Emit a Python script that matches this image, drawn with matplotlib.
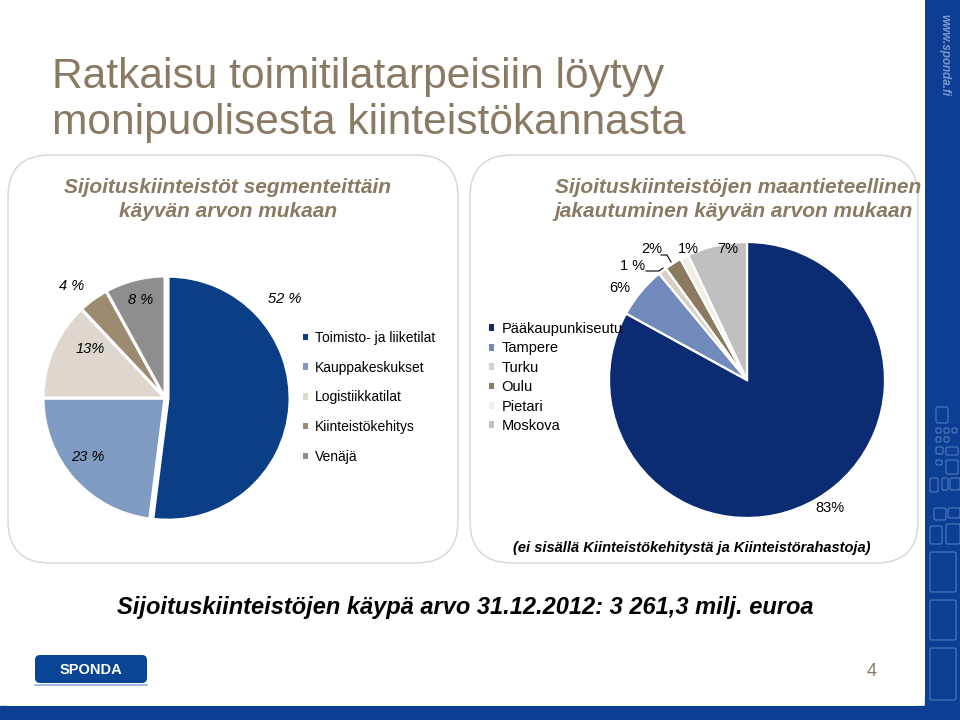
import matplotlib
matplotlib.use("Agg")
import matplotlib.pyplot as plt
from matplotlib.patches import FancyBboxPatch, Rectangle

plt.rcParams['font.family'] = ['Liberation Sans', 'DejaVu Sans']

# segment split (left pie)
segments = ['Toimisto- ja liiketilat', 'Kauppakeskukset', 'Logistiikkatilat',
            'Kiinteistökehitys', 'Venäjä']
segment_share = [52, 23, 13, 4, 8]
segment_labels = ['52 %', '23 %', '13%', '4 %', '8 %']
segment_colors = ['#0a3f88', '#7f9bc2', '#ddd7ce', '#9c8b71', '#8e8e8e']

# geographical split (right pie)
regions = ['Pääkaupunkiseutu', 'Tampere', 'Turku', 'Oulu', 'Pietari', 'Moskova']
region_share = [83, 6, 1, 2, 1, 7]
region_labels = ['83%', '6%', '1 %', '2%', '1%', '7%']
region_colors = ['#0b2c73', '#7189bb', '#d6d0c6', '#8b7a60', '#efede4', '#c0c0c0']

BROWN = '#8a7a63'
W, H = 960, 720

fig = plt.figure(figsize=(9.6, 7.2), dpi=100)
bg = fig.add_axes([0, 0, 1, 1])
bg.set_xlim(0, W)
bg.set_ylim(H, 0)
bg.axis('off')

# slide frame
bg.add_patch(Rectangle((925, 0), 35, 720, color='#0c3f94', zorder=0))
bg.add_patch(Rectangle((0, 706), 960, 14, color='#0c3f94', zorder=0))
bg.add_patch(FancyBboxPatch((0, -20), 925, 726, boxstyle='round,pad=0,rounding_size=12',
                            fc='white', ec='none', zorder=0.5))
for (x, y, w, h) in [(936, 407, 12, 16), (936, 428, 5, 5), (944, 428, 5, 5),
                     (952, 428, 5, 5), (936, 437, 5, 5), (944, 437, 5, 5),
                     (936, 447, 7, 7), (946, 447, 12, 8), (936, 460, 6, 5),
                     (946, 460, 12, 14), (930, 478, 8, 14), (942, 478, 6, 12),
                     (950, 478, 10, 12), (934, 508, 12, 12), (948, 508, 12, 10),
                     (930, 526, 12, 18), (946, 524, 14, 20), (930, 552, 26, 40),
                     (930, 600, 26, 40), (930, 648, 26, 52)]:
    bg.add_patch(FancyBboxPatch((x, y), w, h, boxstyle='round,pad=0,rounding_size=1.5',
                                fc='none', ec='#5f80c0', lw=0.7, zorder=0.3))
bg.text(944, 55, 'www.sponda.fi', rotation=-90, color='#7d98cc', fontsize=8.5,
        style='italic', weight='bold', ha='center', va='center')

# title
bg.text(52, 88, 'Ratkaisu toimitilatarpeisiin löytyy', fontsize=30.6, color=BROWN, va='baseline')
bg.text(52, 134, 'monipuolisesta kiinteistökannasta', fontsize=30.6, color=BROWN, va='baseline')

# panels
for x0, w in [(8, 450), (470, 448)]:
    bg.add_patch(FancyBboxPatch((x0, 155), w, 408, boxstyle='round,pad=0,rounding_size=42',
                                fc='white', ec='#d6d6d6', lw=1.0, zorder=0.6))

sub = dict(fontsize=15, color=BROWN, weight='bold', style='italic', ha='center', va='baseline')
bg.text(228, 193, 'Sijoituskiinteistöt segmenteittäin', **sub)
bg.text(228, 217, 'käyvän arvon mukaan', **sub)
bg.text(738, 193, 'Sijoituskiinteistöjen maantieteellinen', **sub)
bg.text(733, 217, 'jakautuminen käyvän arvon mukaan', **sub)


def pie_axes(cx, cy, r):
    return fig.add_axes([(cx - r) / W, (H - cy - r) / H, 2 * r / W, 2 * r / H])


# left pie
ax1 = pie_axes(165, 398, 122)
w1, _ = ax1.pie(segment_share, colors=segment_colors, startangle=90, counterclock=False,
                explode=[0.025, 0, 0, 0, 0],
                wedgeprops=dict(edgecolor='white', linewidth=2.2))
ax1.set_xlim(-1, 1)
ax1.set_ylim(-1, 1)
ax1.axis('off')

leg1 = fig.legend(w1, segments, loc='upper left', bbox_to_anchor=(303 / W, 1 - 331 / H),
                  frameon=False, fontsize=10, handlelength=0.35, handleheight=0.35,
                  handletextpad=0.5, labelspacing=1.13, borderpad=0, borderaxespad=0)
for h in leg1.legend_handles:
    h.set_edgecolor('none')

# right pie
ax2 = pie_axes(747, 380, 138)
w2, _ = ax2.pie(region_share, colors=region_colors, startangle=90, counterclock=False,
                wedgeprops=dict(edgecolor='white', linewidth=1.6))
ax2.set_xlim(-1, 1)
ax2.set_ylim(-1, 1)
ax2.axis('off')

leg2 = fig.legend(w2, regions, loc='upper left', bbox_to_anchor=(489 / W, 1 - 322 / H),
                  frameon=False, fontsize=10.5, handlelength=0.35, handleheight=0.35,
                  handletextpad=0.5, labelspacing=0.37, borderpad=0, borderaxespad=0)
for h in leg2.legend_handles:
    h.set_edgecolor('none')

# overlay for the data labels so they sit above the pies
top = fig.add_axes([0, 0, 1, 1], zorder=10)
top.set_xlim(0, W)
top.set_ylim(H, 0)
top.axis('off')

for lab, (x, y) in zip(segment_labels, [(285, 299), (88, 457), (90, 349), (72, 286), (141, 300)]):
    top.text(x, y, lab, fontsize=10.5, style='italic', ha='center', va='center')

for lab, (x, y) in zip(region_labels, [(830, 508), (620, 288), (633, 266), (652, 249),
                                       (688, 249), (728, 249)]):
    top.text(x, y, lab, fontsize=10.5, ha='center', va='center')
top.plot([646, 659, 663], [271, 271, 268], color='black', lw=0.8)
top.plot([661, 667, 671], [255, 255, 262], color='black', lw=0.8)

top.text(692, 548, '(ei sisällä Kiinteistökehitystä ja Kiinteistörahastoja)', fontsize=10.5,
         weight='bold', style='italic', ha='center', va='center')

# footer
top.text(465, 614, 'Sijoituskiinteistöjen käypä arvo 31.12.2012: 3 261,3 milj. euroa',
         fontsize=17, weight='bold', style='italic', ha='center', va='baseline')
top.add_patch(FancyBboxPatch((35, 655), 112, 28, boxstyle='round,pad=0,rounding_size=5',
                             fc='#0a4595', ec='none'))
top.plot([35, 147], [685, 685], color='#8fb0e0', lw=1.2)
top.text(91, 670, 'SPONDA', color='white', fontsize=10.5, weight='bold', ha='center', va='center')
top.text(872, 672, '4', color=BROWN, fontsize=13, ha='center', va='center')

fig.savefig('out.png', dpi=100)
